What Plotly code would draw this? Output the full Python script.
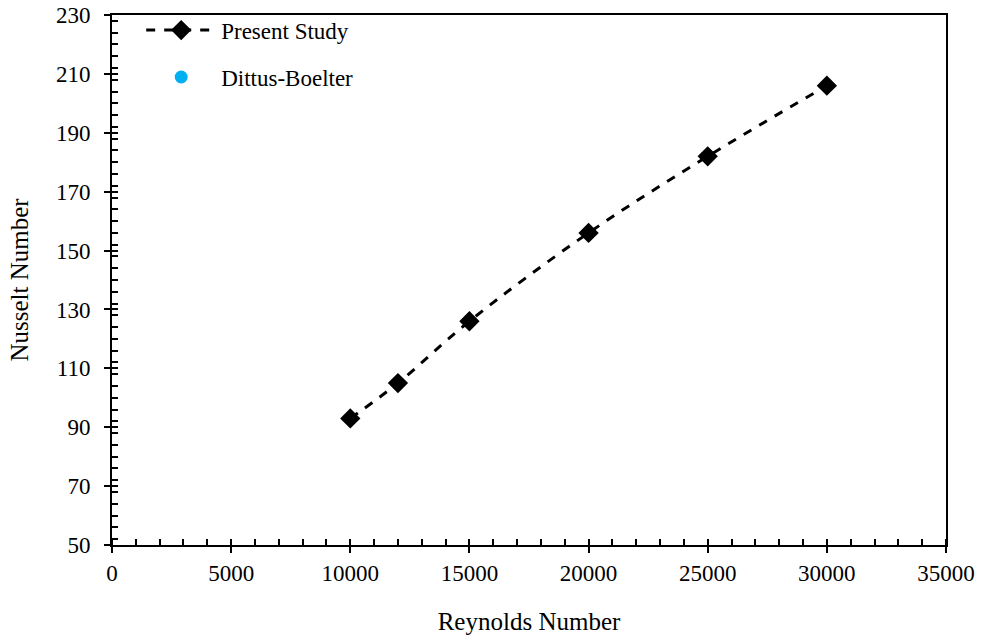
import plotly.graph_objects as go

# Reynolds number vs. Nusselt number
reynolds = [10000, 12000, 15000, 20000, 25000, 30000]
nu_present = [93, 105, 126, 156, 182, 206]
nu_dittus = [93, 105, 126, 156, 182, 206]

x_ticks = [0, 5000, 10000, 15000, 20000, 25000, 30000, 35000]
x_labels = [str(v) for v in x_ticks]
y_ticks = [50, 70, 90, 110, 130, 150, 170, 190, 210, 230]
y_labels = [str(v) for v in y_ticks]

FONT = "Liberation Serif, Times New Roman, serif"
TICK_SIZE = 23
TITLE_SIZE = 25

fig = go.Figure()

# Correlation points sit underneath the simulation markers
fig.add_trace(go.Scatter(
    x=reynolds, y=nu_dittus, mode="markers", name="Dittus-Boelter",
    marker=dict(symbol="circle", size=13, color="#00B0F0"),
    legendgroup="b", legendrank=2,
))
fig.add_trace(go.Scatter(
    x=reynolds, y=nu_present, mode="lines+markers", name="Present Study",
    line=dict(color="black", width=3, dash="dash", shape="spline"),
    marker=dict(symbol="diamond", size=14, color="black",
                line=dict(color="black", width=1.5)),
    legendgroup="a", legendrank=1,
))

axis_common = dict(
    showgrid=False, zeroline=False, automargin=False,
    linecolor="black", linewidth=2,
    tickcolor="black", tickwidth=2,
    tickfont=dict(family=FONT, size=TICK_SIZE, color="black"),
)

fig.update_layout(
    width=982, height=636,
    margin=dict(l=112, r=36, t=15, b=91, autoexpand=False),
    plot_bgcolor="white", paper_bgcolor="white",
    font=dict(family=FONT, size=TICK_SIZE, color="black"),
    xaxis=dict(
        range=[0, 35000], tickvals=x_ticks, ticktext=x_labels,
        ticks="outside", ticklen=6,
        showline=True, mirror=True,
        minor=dict(dtick=1000, ticks="inside", ticklen=6, tickwidth=2, tickcolor="black"),
        title=dict(text="Reynolds Number", standoff=28,
                   font=dict(family=FONT, size=TITLE_SIZE)),
        **axis_common,
    ),
    yaxis=dict(
        range=[50, 230], tickvals=y_ticks, ticktext=y_labels,
        ticks="outside", ticklen=6, ticklabelstandoff=9,
        showline=True, mirror=True,
        minor=dict(dtick=4, ticks="inside", ticklen=6, tickwidth=2, tickcolor="black"),
        title=dict(text="Nusselt Number", standoff=20,
                   font=dict(family=FONT, size=TITLE_SIZE)),
        **axis_common,
    ),
    # overlay axes provide the inner half of the crossing major ticks
    xaxis2=dict(
        overlaying="x", matches="x", range=[0, 35000], tickvals=x_ticks,
        ticks="inside", ticklen=6, tickwidth=2, tickcolor="black", automargin=False,
        showticklabels=False, showgrid=False, zeroline=False, showline=False,
    ),
    yaxis2=dict(
        overlaying="y", matches="y", range=[50, 230], tickvals=y_ticks,
        ticks="inside", ticklen=6, tickwidth=2, tickcolor="black", automargin=False,
        showticklabels=False, showgrid=False, zeroline=False, showline=False,
    ),
    legend=dict(
        x=0.035, y=1.012, xanchor="left", yanchor="top",
        bgcolor="rgba(0,0,0,0)", traceorder="grouped",
        tracegroupgap=14, itemwidth=70,
        font=dict(family=FONT, size=TICK_SIZE, color="black"),
    ),
    showlegend=True,
)

# invisible trace to bring the overlay axes into existence
fig.add_trace(go.Scatter(x=[None], y=[None], xaxis="x2", yaxis="y2",
                         showlegend=False, hoverinfo="skip"))

fig.write_html("out.html")
